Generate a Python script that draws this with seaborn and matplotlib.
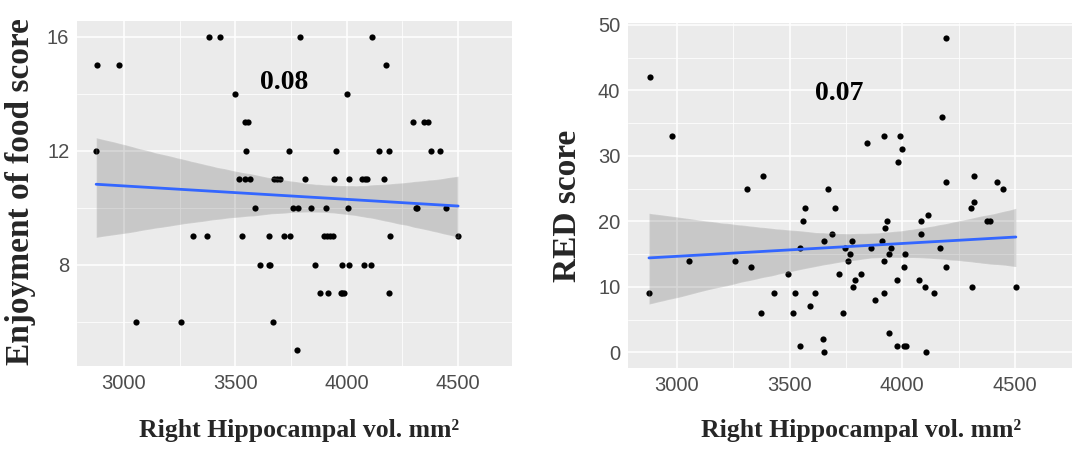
import numpy as np
import pandas as pd
import seaborn as sns
import matplotlib
matplotlib.use("Agg")
import matplotlib.pyplot as plt
from matplotlib import font_manager

# ---------------- data ----------------
# Left panel: Enjoyment of food score vs right hippocampal volume
enjoy_vol = [3384, 3432, 3790, 4112,
             2878, 2977, 4176,
             3498, 4000,
             3545, 3555, 4299, 4347, 4366,
             2875, 3548, 3740, 3952, 4145, 4192, 4379, 4420,
             3517, 3545, 3565, 3674, 3687, 3700, 3815, 3943, 4012, 4071, 4081, 4093, 4167,
             3590, 3758, 3783, 3839, 3906, 4006, 4310, 4318, 4447,
             3311, 3375, 3528, 3653, 3717, 3746, 3900, 3913, 3924, 3938, 4193, 4501,
             3613, 3650, 3657, 3858, 3981, 4012, 4080, 4109,
             3882, 3916, 3974, 3981, 3988, 4192,
             3055, 3256, 3671,
             3778]
enjoy_score = [16, 16, 16, 16,
               15, 15, 15,
               14, 14,
               13, 13, 13, 13, 13,
               12, 12, 12, 12, 12, 12, 12, 12,
               11, 11, 11, 11, 11, 11, 11, 11, 11, 11, 11, 11, 11,
               10, 10, 10, 10, 10, 10, 10, 10, 10,
               9, 9, 9, 9, 9, 9, 9, 9, 9, 9, 9, 9,
               8, 8, 8, 8, 8, 8, 8, 8,
               7, 7, 7, 7, 7, 7,
               6, 6, 6,
               5]

# Right panel: RED score vs right hippocampal volume
red_vol = [2880, 2977, 3384, 3311, 3670, 4192, 4177, 3845, 3920, 3990, 4000, 3983,
           4194, 4316, 4419, 4447,
           3570, 3702, 3558, 3690, 3654, 3548, 2876, 3055, 3256, 3328, 3495, 3717,
           3430, 3526, 3612, 3590, 3374, 3517, 3738, 3548, 3650, 3653,
           4304, 4316, 4113, 3932, 4081, 4377, 4390, 3923, 4081, 3779, 3909, 3747,
           3860, 3952, 4168, 3767, 4012, 3939, 3758, 3918, 4007, 4192, 3815, 3790,
           3977, 4072, 3783, 4101, 4311, 4504, 3879, 3918, 4142, 3940, 3978, 4007,
           4016, 4106]
red_score = [42, 33, 27, 25, 25, 48, 36, 32, 33, 33, 31, 29,
             26, 27, 26, 25,
             22, 22, 20, 18, 17, 16, 9, 14, 14, 13, 12, 12,
             9, 9, 9, 7, 6, 6, 6, 1, 2, 0,
             22, 23, 21, 20, 20, 20, 20, 19, 18, 17, 17, 16,
             16, 16, 16, 15, 15, 15, 14, 14, 13, 13, 12, 11,
             11, 11, 10, 10, 10, 10, 8, 9, 9, 3, 1, 1,
             1, 0]

x_ticks = [3000, 3500, 4000, 4500]
x_minor = [3250, 3750, 4250]
left_yticks = [8, 12, 16]
left_yminor = [6, 10, 14]
right_yticks = [0, 10, 20, 30, 40, 50]
right_yminor = [5, 15, 25, 35, 45]
r_left = "0.08"
r_right = "0.07"
x_label = "Right Hippocampal vol. mm²"
y_label_left = "Enjoyment of food score"
y_label_right = "RED score"

df_left = pd.DataFrame({"vol": enjoy_vol, "score": enjoy_score})
df_right = pd.DataFrame({"vol": red_vol, "score": red_score})

# ---------------- style ----------------
sns.set_theme(style="darkgrid", rc={
    "axes.facecolor": "#EBEBEB",
    "figure.facecolor": "white",
    "grid.color": "white",
    "grid.linewidth": 1.1,
    "axes.edgecolor": "none",
})
available = {f.name for f in font_manager.fontManager.ttflist}
if "Liberation Sans Narrow" in available:
    tick_family, tick_size = "Liberation Sans Narrow", 15.5
else:
    tick_family, tick_size = "Liberation Sans", 14.5
serif = ["Liberation Serif", "DejaVu Serif"]

fig = plt.figure(figsize=(10.72, 4.53), dpi=100)
W, H = 1072, 453


def px_axes(l, t, r, b):
    return fig.add_axes([l / W, 1 - b / H, (r - l) / W, (b - t) / H])


ax1 = px_axes(77, 21, 512, 366)
ax2 = px_axes(628, 23, 1072, 368)


def draw(ax, df, xlim, ylim, yticks, yminor, label, seed):
    sns.regplot(data=df, x="vol", y="score", ax=ax, color="black",
                scatter_kws={"s": 20, "linewidths": 0, "alpha": 1},
                line_kws={"linewidth": 0, "alpha": 0},
                ci=90, n_boot=2000, seed=seed)
    sns.regplot(data=df, x="vol", y="score", ax=ax, scatter=False, ci=None,
                color="#3366FF", line_kws={"linewidth": 2})
    ax.set_xlim(*xlim)
    ax.set_ylim(*ylim)
    ax.set_xticks(x_ticks)
    ax.set_xticks(x_minor, minor=True)
    ax.set_yticks(yticks)
    ax.set_yticks(yminor, minor=True)
    ax.grid(which="major", color="white", linewidth=1.1)
    ax.grid(which="minor", color="white", linewidth=0.55)
    ax.tick_params(which="major", length=3.5, width=0.8, color="#333333",
                   labelcolor="#4D4D4D", labelsize=tick_size, pad=2)
    ax.tick_params(which="minor", length=0)
    for t in ax.get_xticklabels() + ax.get_yticklabels():
        t.set_fontfamily(tick_family)
    ax.set_xlabel("")
    ax.set_ylabel("")
    ax.text(3720, label[1], label[0], ha="center", va="center",
            fontsize=20, fontweight="bold", family=serif, color="black")


draw(ax1, df_left, (2789, 4743), (4.45, 16.56), left_yticks, left_yminor, (r_left, 14.4), 7)
draw(ax2, df_right, (2783, 4753), (-2.4, 50.3), right_yticks, right_yminor, (r_right, 39.6), 11)

# axis titles (bold serif)
fig.text(21 / W, 1 - 192 / H, y_label_left, rotation=90, ha="center", va="center",
         fontsize=24, fontweight="bold", family=serif)
fig.text(568 / W, 1 - 206 / H, y_label_right, rotation=90, ha="center", va="center",
         fontsize=24, fontweight="bold", family=serif)
fig.text(299 / W, 1 - 430 / H, x_label, ha="center", va="center",
         fontsize=18.5, fontweight="bold", family=serif)
fig.text(861 / W, 1 - 430 / H, x_label, ha="center", va="center",
         fontsize=18.5, fontweight="bold", family=serif)

fig.savefig("out.png", dpi=100)
